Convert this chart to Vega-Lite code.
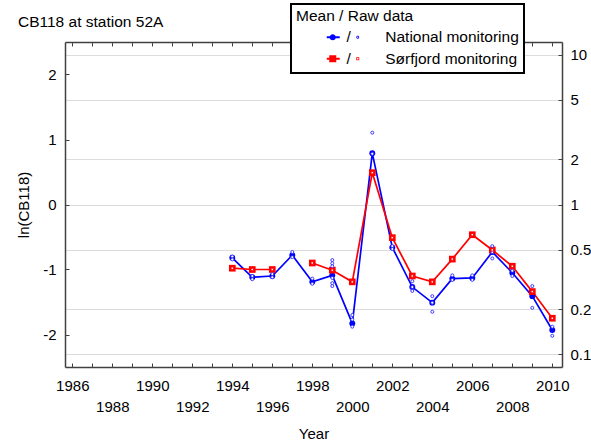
{
  "$schema": "https://vega.github.io/schema/vega-lite/v6.json",
  "width": 497,
  "height": 325,
  "autosize": {"type": "none"},
  "padding": {"left": 65, "top": 42, "right": 29, "bottom": 76},
  "background": "white",
  "title": {
    "text": "CB118 at station 52A",
    "anchor": "start",
    "frame": "group",
    "dx": -47,
    "dy": 57,
    "baseline": "alphabetic",
    "offset": 18,
    "fontSize": 15.5,
    "fontWeight": "normal",
    "font": "Liberation Sans",
    "color": "black"
  },
  "datasets": {
    "means": [
      {"year": 1994, "series": "National monitoring", "ln": -0.82},
      {"year": 1995, "series": "National monitoring", "ln": -1.12},
      {"year": 1996, "series": "National monitoring", "ln": -1.10},
      {"year": 1997, "series": "National monitoring", "ln": -0.78},
      {"year": 1998, "series": "National monitoring", "ln": -1.19},
      {"year": 1999, "series": "National monitoring", "ln": -1.09},
      {"year": 2000, "series": "National monitoring", "ln": -1.83},
      {"year": 2001, "series": "National monitoring", "ln": 0.79},
      {"year": 2002, "series": "National monitoring", "ln": -0.66},
      {"year": 2003, "series": "National monitoring", "ln": -1.27},
      {"year": 2004, "series": "National monitoring", "ln": -1.51},
      {"year": 2005, "series": "National monitoring", "ln": -1.14},
      {"year": 2006, "series": "National monitoring", "ln": -1.13},
      {"year": 2007, "series": "National monitoring", "ln": -0.73},
      {"year": 2008, "series": "National monitoring", "ln": -1.05},
      {"year": 2009, "series": "National monitoring", "ln": -1.41},
      {"year": 2010, "series": "National monitoring", "ln": -1.93},
      {"year": 1994, "series": "Sørfjord monitoring", "ln": -0.98},
      {"year": 1995, "series": "Sørfjord monitoring", "ln": -1.00},
      {"year": 1996, "series": "Sørfjord monitoring", "ln": -1.00},
      {"year": 1997, "series": "Sørfjord monitoring", "ln": null},
      {"year": 1998, "series": "Sørfjord monitoring", "ln": -0.90},
      {"year": 1999, "series": "Sørfjord monitoring", "ln": -1.01},
      {"year": 2000, "series": "Sørfjord monitoring", "ln": -1.19},
      {"year": 2001, "series": "Sørfjord monitoring", "ln": 0.49},
      {"year": 2002, "series": "Sørfjord monitoring", "ln": -0.51},
      {"year": 2003, "series": "Sørfjord monitoring", "ln": -1.10},
      {"year": 2004, "series": "Sørfjord monitoring", "ln": -1.19},
      {"year": 2005, "series": "Sørfjord monitoring", "ln": -0.84},
      {"year": 2006, "series": "Sørfjord monitoring", "ln": -0.465},
      {"year": 2007, "series": "Sørfjord monitoring", "ln": -0.70},
      {"year": 2008, "series": "Sørfjord monitoring", "ln": -0.95},
      {"year": 2009, "series": "Sørfjord monitoring", "ln": -1.34},
      {"year": 2010, "series": "Sørfjord monitoring", "ln": -1.75}
    ],
    "raw": [
      {"year": 1994, "series": "National monitoring", "ln": -0.80},
      {"year": 1994, "series": "National monitoring", "ln": -0.845},
      {"year": 1995, "series": "National monitoring", "ln": -1.10},
      {"year": 1995, "series": "National monitoring", "ln": -1.15},
      {"year": 1996, "series": "National monitoring", "ln": -1.07},
      {"year": 1996, "series": "National monitoring", "ln": -1.12},
      {"year": 1997, "series": "National monitoring", "ln": -0.73},
      {"year": 1997, "series": "National monitoring", "ln": -0.81},
      {"year": 1998, "series": "National monitoring", "ln": -1.14},
      {"year": 1998, "series": "National monitoring", "ln": -1.22},
      {"year": 1999, "series": "National monitoring", "ln": -0.855},
      {"year": 1999, "series": "National monitoring", "ln": -0.905},
      {"year": 1999, "series": "National monitoring", "ln": -0.95},
      {"year": 1999, "series": "National monitoring", "ln": -1.13},
      {"year": 1999, "series": "National monitoring", "ln": -1.21},
      {"year": 1999, "series": "National monitoring", "ln": -1.255},
      {"year": 2000, "series": "National monitoring", "ln": -1.70},
      {"year": 2000, "series": "National monitoring", "ln": -1.77},
      {"year": 2000, "series": "National monitoring", "ln": -1.88},
      {"year": 2001, "series": "National monitoring", "ln": 1.105},
      {"year": 2001, "series": "National monitoring", "ln": 0.78},
      {"year": 2002, "series": "National monitoring", "ln": -0.64},
      {"year": 2002, "series": "National monitoring", "ln": -0.685},
      {"year": 2003, "series": "National monitoring", "ln": -1.18},
      {"year": 2003, "series": "National monitoring", "ln": -1.27},
      {"year": 2003, "series": "National monitoring", "ln": -1.33},
      {"year": 2004, "series": "National monitoring", "ln": -1.41},
      {"year": 2004, "series": "National monitoring", "ln": -1.51},
      {"year": 2004, "series": "National monitoring", "ln": -1.65},
      {"year": 2005, "series": "National monitoring", "ln": -1.09},
      {"year": 2005, "series": "National monitoring", "ln": -1.16},
      {"year": 2006, "series": "National monitoring", "ln": -1.09},
      {"year": 2006, "series": "National monitoring", "ln": -1.16},
      {"year": 2007, "series": "National monitoring", "ln": -0.64},
      {"year": 2007, "series": "National monitoring", "ln": -0.73},
      {"year": 2007, "series": "National monitoring", "ln": -0.83},
      {"year": 2008, "series": "National monitoring", "ln": -1.02},
      {"year": 2008, "series": "National monitoring", "ln": -1.10},
      {"year": 2009, "series": "National monitoring", "ln": -1.255},
      {"year": 2009, "series": "National monitoring", "ln": -1.59},
      {"year": 2010, "series": "National monitoring", "ln": -1.88},
      {"year": 2010, "series": "National monitoring", "ln": -2.02},
      {"year": 1994, "series": "Sørfjord monitoring", "ln": -0.98},
      {"year": 1995, "series": "Sørfjord monitoring", "ln": -1.00},
      {"year": 1996, "series": "Sørfjord monitoring", "ln": -1.00},
      {"year": 1998, "series": "Sørfjord monitoring", "ln": -0.90},
      {"year": 1999, "series": "Sørfjord monitoring", "ln": -1.01},
      {"year": 2000, "series": "Sørfjord monitoring", "ln": -1.19},
      {"year": 2001, "series": "Sørfjord monitoring", "ln": 0.49},
      {"year": 2002, "series": "Sørfjord monitoring", "ln": -0.51},
      {"year": 2003, "series": "Sørfjord monitoring", "ln": -1.10},
      {"year": 2004, "series": "Sørfjord monitoring", "ln": -1.19},
      {"year": 2005, "series": "Sørfjord monitoring", "ln": -0.84},
      {"year": 2006, "series": "Sørfjord monitoring", "ln": -0.465},
      {"year": 2007, "series": "Sørfjord monitoring", "ln": -0.70},
      {"year": 2008, "series": "Sørfjord monitoring", "ln": -0.95},
      {"year": 2009, "series": "Sørfjord monitoring", "ln": -1.34},
      {"year": 2010, "series": "Sørfjord monitoring", "ln": -1.75}
    ]
  },
  "layer": [
    {
      "data": {"name": "means"},
      "mark": {"type": "line", "strokeWidth": 1.7},
      "encoding": {
        "x": {
          "field": "year", "type": "quantitative",
          "scale": {"domain": [1985.635, 2010.485], "nice": false, "zero": false},
          "axis": {
            "orient": "bottom", "title": "Year",
            "values": [1986,1987,1988,1989,1990,1991,1992,1993,1994,1995,1996,1997,1998,1999,2000,2001,2002,2003,2004,2005,2006,2007,2008,2009,2010],
            "labelExpr": "(datum.value - 1986) % 4 == 0 ? '' + datum.value : ((datum.value - 1988) % 4 == 0 ? ['', '' + datum.value] : '')",
            "tickSize": -4, "labelPadding": 15.5, "labelBaseline": "top", "labelLineHeight": 21,
            "labelOverlap": false, "labelFlush": false, "labelFontSize": 15, "titleFontSize": 15, "titlePadding": 12
          }
        },
        "y": {
          "field": "ln", "type": "quantitative",
          "scale": {"domain": [-2.5, 2.5], "nice": false, "zero": false},
          "axis": {
            "orient": "left", "title": "ln(CB118)", "values": [-2, -1, 0, 1, 2],
            "labelExpr": "'' + datum.value",
            "tickSize": -4, "labelPadding": 13, "labelFontSize": 15, "titleFontSize": 15, "titlePadding": 11
          }
        },
        "color": {
          "field": "series", "type": "nominal",
          "scale": {"domain": ["National monitoring", "Sørfjord monitoring"], "range": ["#0000ff", "#ff0000"]},
          "legend": {
            "orient": "none", "legendX": 226, "legendY": -38, "direction": "vertical",
            "title": "Mean / Raw data", "titleFont": "Liberation Sans", "titleFontSize": 15.5,
            "titleFontWeight": "normal", "titleColor": "black", "titlePadding": 5, "titleAnchor": "start",
            "labelFont": "Liberation Sans", "labelFontSize": 15.5, "labelColor": "black",
            "labelOffset": 35, "labelLimit": 400,
            "labelExpr": "'/\u00a0\u00a0\u00a0\u00a0\u00a0\u00a0\u00a0\u00a0' + datum.label + '\u00a0\u00a0\u00a0\u00a0'",
            "symbolSize": 196, "symbolStrokeWidth": 0, "symbolType": "circle",
            "rowPadding": 4.5, "padding": 5, "strokeColor": "black", "fillColor": "white",
            "encode": {
              "legend": {"update": {"strokeWidth": {"value": 2}}},
              "symbols": {
                "update": {
                  "shape": {"signal": "datum.value === 'National monitoring' ? 'M3.286,-0.143L5.143,-0.143L5.143,0.143L3.286,0.143Z M3.7,0A0.443,0.443 0 1,1 4.586,0A0.443,0.443 0 1,1 3.7,0Z M7.5,0A0.214,0.214 0 1,1 7.928,0A0.214,0.214 0 1,1 7.5,0Z M7.614,0A0.1,0.1 0 1,0 7.814,0A0.1,0.1 0 1,0 7.614,0Z' : 'M3.286,-0.143L5.143,-0.143L5.143,0.143L3.286,0.143Z M3.643,-0.5L4.643,-0.5L4.643,0.5L3.643,0.5Z M7.5,-0.214L7.928,-0.214L7.928,0.214L7.5,0.214Z M7.614,-0.1L7.614,0.1L7.814,0.1L7.814,-0.1Z'"},
                  "fill": {"signal": "datum.value === 'National monitoring' ? '#0000ff' : '#ff0000'"},
                  "stroke": {"value": "transparent"},
                  "strokeWidth": {"value": 0},
                  "opacity": {"value": 1}
                }
              }
            }
          }
        }
      }
    },
    {
      "data": {"name": "means"},
      "transform": [{"filter": "datum.series === 'National monitoring'"}],
      "mark": {"type": "point", "shape": "circle", "filled": true, "color": "#0000ff", "size": 35, "opacity": 1},
      "encoding": {
        "x": {
          "field": "year", "type": "quantitative",
          "scale": {"domain": [1985.635, 2010.485], "nice": false, "zero": false},
          "axis": {
            "orient": "top", "title": null, "labels": false, "grid": false,
            "values": [1986,1987,1988,1989,1990,1991,1992,1993,1994,1995,1996,1997,1998,1999,2000,2001,2002,2003,2004,2005,2006,2007,2008,2009,2010],
            "tickSize": -4
          }
        },
        "y": {
          "field": "ln", "type": "quantitative",
          "scale": {"domain": [-2.5, 2.5], "nice": false, "zero": false},
          "axis": {
            "orient": "right", "title": null,
            "values": [-2.302585, -1.609438, -0.693147, 0, 0.693147, 1.609438, 2.302585],
            "labelExpr": "format(exp(datum.value), '.1~f')",
            "grid": true, "gridColor": "#dcdcdc", "gridWidth": 1,
            "tickSize": -4, "labelPadding": 12, "labelFontSize": 15
          }
        }
      }
    },
    {
      "data": {"name": "means"},
      "transform": [{"filter": "datum.series === 'Sørfjord monitoring' && datum.ln != null"}],
      "mark": {"type": "square", "filled": true, "color": "#ff0000", "size": 45, "opacity": 1},
      "encoding": {
        "x": {"field": "year", "type": "quantitative", "scale": {"domain": [1985.635, 2010.485], "nice": false, "zero": false}, "axis": null},
        "y": {"field": "ln", "type": "quantitative", "scale": {"domain": [-2.5, 2.5], "nice": false, "zero": false}, "axis": null}
      }
    },
    {
      "data": {"name": "raw"},
      "transform": [{"filter": "datum.series === 'National monitoring'"}],
      "mark": {"type": "point", "shape": "circle", "filled": true, "fill": "white", "stroke": "#2a2aff", "strokeWidth": 0.9, "size": 9, "opacity": 1},
      "encoding": {
        "x": {"field": "year", "type": "quantitative", "scale": {"domain": [1985.635, 2010.485], "nice": false, "zero": false}, "axis": null},
        "y": {"field": "ln", "type": "quantitative", "scale": {"domain": [-2.5, 2.5], "nice": false, "zero": false}, "axis": null}
      }
    },
    {
      "data": {"name": "raw"},
      "transform": [{"filter": "datum.series === 'Sørfjord monitoring'"}],
      "mark": {"type": "square", "filled": true, "fill": "white", "stroke": "#ff0000", "strokeWidth": 0.9, "size": 6, "opacity": 1},
      "encoding": {
        "x": {"field": "year", "type": "quantitative", "scale": {"domain": [1985.635, 2010.485], "nice": false, "zero": false}, "axis": null},
        "y": {"field": "ln", "type": "quantitative", "scale": {"domain": [-2.5, 2.5], "nice": false, "zero": false}, "axis": null}
      }
    }
  ],
  "resolve": {"axis": {"x": "independent", "y": "independent"}},
  "config": {
    "view": {"stroke": null},
    "font": "Liberation Sans",
    "axis": {
      "domainColor": "#404040", "domainWidth": 1.5, "tickColor": "#404040", "tickWidth": 1,
      "labelFont": "Liberation Sans", "titleFont": "Liberation Sans",
      "labelColor": "black", "titleColor": "black", "titleFontWeight": "normal", "grid": false
    }
  }
}
